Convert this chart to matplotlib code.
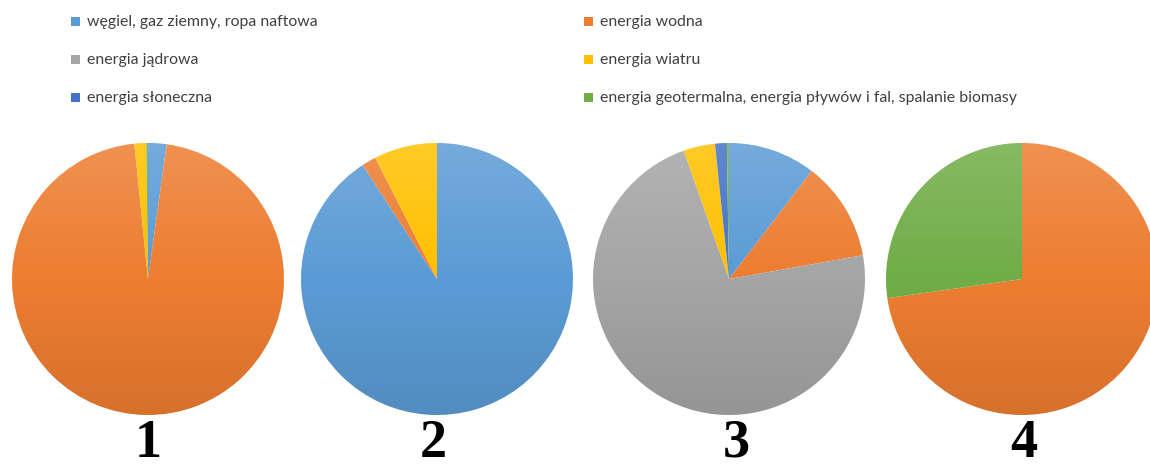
import numpy as np
import matplotlib
matplotlib.use("Agg")
import matplotlib.pyplot as plt
from matplotlib.patches import Rectangle, Circle

# ------------------ DATA ------------------

categories = ['węgiel, gaz ziemny, ropa naftowa', 'energia wodna',
              'energia jądrowa', 'energia wiatru',
              'energia słoneczna',
              'energia geotermalna, energia pływów i fal, spalanie biomasy']
colors = ['#5B9BD5', '#ED7D31', '#A5A5A5', '#FFC000', '#4472C4', '#70AD47']

pie_labels = ['1', '2', '3', '4']
pie1 = [2.2, 96.2, 0, 1.4, 0, 0.2]
pie2 = [90.8, 1.7, 0, 7.5, 0, 0]
pie3 = [10.4, 11.8, 72.4, 3.75, 1.4, 0.25]
pie4 = [0, 72.75, 0, 0, 0, 27.25]
pies = [pie1, pie2, pie3, pie4]

# ------------------ FIGURE ------------------

W, H = 1150, 469
fig = plt.figure(figsize=(W / 100, H / 100), dpi=100)
fig.patch.set_facecolor('white')

centers_x = [148, 437, 729, 1022]
label_x = [148, 433, 736, 1024]
center_y = 279
r = 136

# vertical gradient overlay (lighter top, darker bottom), like Excel
grad = np.zeros((256, 1, 4))
t = np.linspace(0, 1, 256)
grad[:, 0, :3] = np.where(t[:, None] < 0.5, 1.0, 0.0)
grad[:, 0, 3] = np.where(t < 0.5, 0.16 * (0.5 - t) * 2, 0.10 * (t - 0.5) * 2)

for cx, lx, vals, lab in zip(centers_x, label_x, pies, pie_labels):
    ax = fig.add_axes([(cx - r) / W, (H - center_y - r) / H, 2 * r / W, 2 * r / H])
    ax.pie(vals, colors=colors, startangle=90, counterclock=False, radius=1,
           wedgeprops=dict(linewidth=0))
    im = ax.imshow(grad, extent=[-1, 1, -1, 1], aspect='auto', zorder=5)
    im.set_clip_path(Circle((0, 0), 1, transform=ax.transData))
    ax.set_xlim(-1, 1)
    ax.set_ylim(-1, 1)
    ax.set_aspect('equal')
    ax.axis('off')
    fig.text(lx / W, 0.5 / H, lab, ha='center', va='bottom',
             fontsize=39, fontweight='bold', family='Liberation Serif', color='black')

# ------------------ LEGEND ------------------

col_x = [75, 588]
row_y = [22, 60, 98]
for i, (name, c) in enumerate(zip(categories, colors)):
    x = col_x[i % 2]
    y = row_y[i // 2]
    fig.patches.append(Rectangle(((x - 4) / W, (H - y - 4) / H), 9 / W, 9 / H,
                                 transform=fig.transFigure, facecolor=c, edgecolor='none'))
    fig.text((x + 12) / W, (H - y) / H, name, ha='left', va='center',
             fontsize=11.4, family='Lato', color='#404040')

fig.savefig('out.png', dpi=100, facecolor='white')
